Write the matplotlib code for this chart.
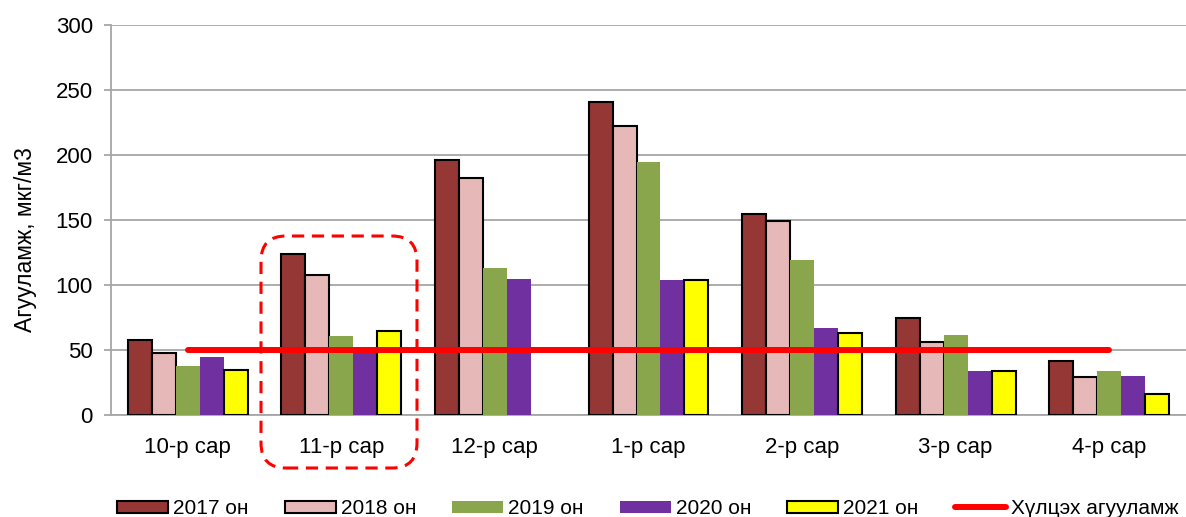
import numpy as np
import matplotlib
matplotlib.use("Agg")
from matplotlib import pyplot as plt
from matplotlib.patches import FancyBboxPatch

plt.rcParams['font.family'] = ['Liberation Sans', 'DejaVu Sans']

months = ['10-р сар', '11-р сар', '12-р сар', '1-р сар', '2-р сар', '3-р сар', '4-р сар']
years = ['2017 он', '2018 он', '2019 он', '2020 он', '2021 он']
v2017 = [58, 124, 196, 241, 155, 75, 42]
v2018 = [48, 108, 182, 222, 149, 56, 29]
v2019 = [38, 61, 113, 195, 119, 62, 34]
v2020 = [45, 50, 105, 104, 67, 34, 30]
v2021 = [35, 65, np.nan, 104, 63, 34, 16]   # no December value for 2021
limit = [50, 50, 50, 50, 50, 50, 50]
limit_label = 'Хүлцэх агууламж'

series = [v2017, v2018, v2019, v2020, v2021]
colors = ['#953735', '#E6B9B8', '#8AA64C', '#7030A0', '#FFFF00']
edges = ['black', 'black', 'none', 'none', 'black']

fig = plt.figure(figsize=(11.86, 5.17), dpi=100)
ax = fig.add_axes([0.0936, 0.197, 0.9064, 0.7546])

x = np.arange(len(months))
w = 0.156
for i, vals in enumerate(series):
    ax.bar(x + (i - 2) * w, vals, w, color=colors[i], edgecolor=edges[i],
           linewidth=1.5, label=years[i], zorder=3)

ax.plot(x, limit, color='#FF0000', lw=4.3, solid_capstyle='round',
        label=limit_label, zorder=4)

ax.set_xlim(-0.5, 6.5)
ax.set_ylim(0, 300)
ax.set_yticks(range(0, 301, 50))
ax.set_xticks(x)
ax.set_xticklabels(months)
ax.grid(axis='y', color='#A6A6A6', lw=1.3, zorder=0)
for s in ['top', 'right']:
    ax.spines[s].set_visible(False)
ax.spines['left'].set_color('#A6A6A6')
ax.spines['bottom'].set_color('#A6A6A6')
ax.spines['left'].set_linewidth(1.3)
ax.spines['bottom'].set_linewidth(1.3)
ax.tick_params(axis='y', colors='#A6A6A6', labelcolor='black', length=5, width=1.3,
               labelsize=16, pad=8)
ax.tick_params(axis='x', length=0, pad=16, labelsize=16)
ax.set_ylabel('Агууламж, мкг/м3', fontsize=16.5)
ax.yaxis.set_label_coords(-0.069, 0.449)

# dashed highlight around November
box = FancyBboxPatch((2.61, 0.49), 1.56, 2.32, boxstyle='round,pad=0,rounding_size=0.25',
                     transform=fig.dpi_scale_trans, fill=False, edgecolor='#FF0000',
                     lw=2.2, linestyle=(0, (4, 2.5)), clip_on=False, zorder=5)
fig.add_artist(box)

h, l = ax.get_legend_handles_labels()
order = [1, 2, 3, 4, 5, 0]
fig.legend([h[k] for k in order], [l[k] for k in order],
           loc='center left', bbox_to_anchor=(0.0987, 0.016), ncol=6, frameon=False,
           fontsize=15, borderpad=0, borderaxespad=0,
           handlelength=2.45, handleheight=0.53, handletextpad=0.24, columnspacing=1.73)

fig.savefig('out.png', dpi=100)
